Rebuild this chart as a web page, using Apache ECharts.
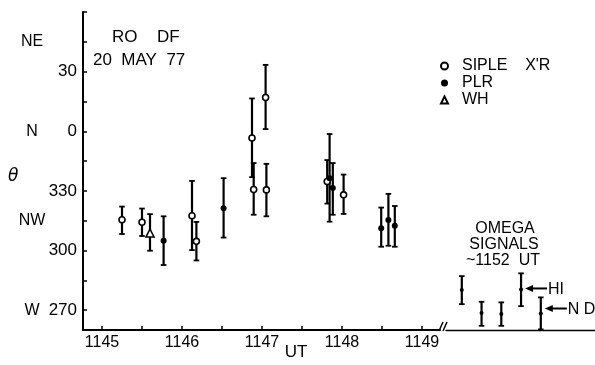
<!DOCTYPE html>
<html><head><meta charset="utf-8">
<script src="https://cdn.jsdelivr.net/npm/echarts@6/dist/echarts.min.js"></script>
<style>html,body{margin:0;padding:0;background:#fff}#c{width:595px;height:365px}</style>
</head><body><div id="c"></div>
<script>
// ---- data (UT minutes after 11:00 written as 1145.x, bearing theta in degrees; 360 = N = "0") ----
const sipleT  = [1145.25, 1145.50, 1146.125, 1146.18, 1146.875, 1146.896, 1147.045, 1147.055, 1147.815, 1148.02];
const sipleV  = [315.5, 314.2, 317.5, 304.6, 356.6, 330.7, 377.0, 330.5, 334.7, 328.0];
const sipleLo = [308.3, 307.3, 300.2, 295.0, 336.9, 318.0, 361.1, 317.2, 323.6, 318.4];
const sipleHi = [322.1, 321.1, 335.0, 314.4, 376.5, 344.0, 393.4, 343.6, 345.5, 338.2];

const plrT  = [1145.77, 1146.52, 1147.845, 1147.885, 1148.49, 1148.58, 1148.66];
const plrV  = [304.9, 321.3, 336.4, 331.4, 311.2, 315.4, 312.4];
const plrLo = [292.7, 306.5, 314.5, 318.0, 301.9, 302.4, 301.9];
const plrHi = [317.2, 336.4, 358.6, 344.0, 321.6, 328.5, 322.4];

const whT  = [1145.60];
const whV  = [308.8];
const whLo = [299.9];
const whHi = [318.3];

// Omega signals (~1152 UT), separate panel, station order
const omegaPos = [1, 2, 3, 4, 5];
const omegaV   = [280.1, 268.6, 268.0, 280.4, 268.3];
const omegaLo  = [273.0, 262.1, 262.1, 272.0, 260.3];
const omegaHi  = [287.1, 274.2, 273.9, 288.5, 276.4];
const omegaTag = ['', '', '', 'HI', 'ND'];

const thetaTicks  = [270, 300, 330, 360, 390];
const compassVals = [270, 315, 360, 405];
const compassText = ['W', 'NW', 'N', 'NE'];
const utTicks = [1145, 1146, 1147, 1148, 1149];
const utMinor = [1145, 1145.5, 1146, 1146.5, 1147, 1147.5, 1148, 1148.5, 1149];
const thetaMinor = [270, 285, 300, 315, 330, 345, 360, 375, 390, 405, 420];

// ---- chart ----
const FONT = 'Liberation Sans';
const chart = echarts.init(document.getElementById('c'));
const zip = (a, b, c) => a.map((v, i) => [v, b[i], c[i]]);
function renderBar(params, api) {
  const x = api.value(0), lo = api.value(1), hi = api.value(2);
  const p1 = api.coord([x, lo]), p2 = api.coord([x, hi]);
  const w = 2.8;
  const st = {stroke: '#000', lineWidth: 2.2};
  return {type: 'group', children: [
    {type: 'line', shape: {x1: p1[0], y1: p1[1], x2: p2[0], y2: p2[1]}, style: st},
    {type: 'line', shape: {x1: p1[0] - w, y1: p1[1], x2: p1[0] + w, y2: p1[1]}, style: {stroke: '#000', lineWidth: 1.8}},
    {type: 'line', shape: {x1: p2[0] - w, y1: p2[1], x2: p2[0] + w, y2: p2[1]}, style: {stroke: '#000', lineWidth: 1.8}}
  ]};
}
const sipleName = "SIPLE    X'R";
const txt = (t, x, y, extra) => Object.assign({type: 'text', x: x, y: y,
  style: Object.assign({text: t, font: '16px "' + FONT + '"', fill: '#000', textVerticalAlign: 'middle'}, extra || {})});

const option = {
  animation: false,
  backgroundColor: '#fff',
  textStyle: {fontFamily: FONT},
  grid: [
    {left: 83, top: 12, width: 357, height: 318},
    {left: 446, top: 12, width: 149, height: 318}
  ],
  xAxis: [
    {type: 'value', gridIndex: 0, min: 1144.7625, max: 1149.225,
     axisLine: {show: true, lineStyle: {color: '#000', width: 2}},
     axisTick: {show: true, inside: true, length: 4, lineStyle: {color: '#000', width: 1.5}, customValues: utMinor},
     axisLabel: {show: true, customValues: utTicks, formatter: v => String(Math.round(v)), color: '#000', fontSize: 16, margin: 5, fontFamily: FONT},
     splitLine: {show: false}},
    {type: 'value', gridIndex: 1, min: 0.2, max: 7.744,
     axisLine: {show: true, lineStyle: {color: '#000', width: 1.4}},
     axisTick: {show: false}, axisLabel: {show: false}, splitLine: {show: false}}
  ],
  yAxis: [
    {type: 'value', gridIndex: 0, min: 260, max: 420, position: 'left',
     axisLine: {show: true, lineStyle: {color: '#000', width: 2}},
     axisTick: {show: true, inside: true, length: 4, lineStyle: {color: '#000', width: 1.5}, customValues: thetaMinor},
     axisLabel: {show: true, customValues: thetaTicks, formatter: v => String(v >= 360 ? v - 360 : v), color: '#000', fontSize: 17, margin: 6, fontFamily: FONT},
     splitLine: {show: false}},
    {type: 'value', gridIndex: 1, min: 260, max: 420, show: false},
    {type: 'value', gridIndex: 0, min: 260, max: 420, position: 'left', offset: 51,
     axisLine: {show: false}, axisTick: {show: false}, splitLine: {show: false},
     axisLabel: {show: true, customValues: compassVals, margin: 0, align: 'center',
       formatter: v => compassText[compassVals.indexOf(v)], color: '#000', fontSize: 16, fontFamily: FONT}}
  ],
  legend: {
    orient: 'vertical', left: 435, top: 53, itemWidth: 7, itemHeight: 7, itemGap: 1,
    data: [sipleName, 'PLR', 'WH'],
    textStyle: {fontSize: 16, lineHeight: 16, color: '#000', fontFamily: FONT, padding: [0, 0, 0, 9]},
    selectedMode: false
  },
  series: [
    {type: 'custom', name: 'sipleBars', xAxisIndex: 0, yAxisIndex: 0, renderItem: renderBar, data: zip(sipleT, sipleLo, sipleHi), z: 2},
    {type: 'custom', name: 'plrBars', xAxisIndex: 0, yAxisIndex: 0, renderItem: renderBar, data: zip(plrT, plrLo, plrHi), z: 2},
    {type: 'custom', name: 'whBars', xAxisIndex: 0, yAxisIndex: 0, renderItem: renderBar, data: zip(whT, whLo, whHi), z: 2},
    {type: 'custom', name: 'omegaBars', xAxisIndex: 1, yAxisIndex: 1, renderItem: renderBar, data: zip(omegaPos, omegaLo, omegaHi), z: 2},
    {type: 'scatter', name: sipleName, xAxisIndex: 0, yAxisIndex: 0, symbol: 'circle', symbolSize: 6,
     itemStyle: {color: '#fff', borderColor: '#000', borderWidth: 1.6, opacity: 1}, data: sipleT.map((t, i) => [t, sipleV[i]]), z: 5},
    {type: 'scatter', name: 'PLR', xAxisIndex: 0, yAxisIndex: 0, symbol: 'circle', symbolSize: 6,
     itemStyle: {color: '#000', opacity: 1}, data: plrT.map((t, i) => [t, plrV[i]]), z: 5},
    {type: 'scatter', name: 'WH', xAxisIndex: 0, yAxisIndex: 0, symbol: 'triangle', symbolSize: 8,
     itemStyle: {color: '#fff', borderColor: '#000', borderWidth: 1.6, opacity: 1}, data: whT.map((t, i) => [t, whV[i]]), z: 5},
    {type: 'scatter', name: 'Omega', xAxisIndex: 1, yAxisIndex: 1, symbol: 'circle', symbolSize: 4,
     itemStyle: {color: '#000', opacity: 1}, data: omegaPos.map((p, i) => [p, omegaV[i]]), z: 5}
  ],
  graphic: [
    txt('RO', 112, 37, {font: '17px "' + FONT + '"'}), txt('DF', 157, 37, {font: '17px "' + FONT + '"'}),
    txt('20  MAY  77', 93, 60, {font: '17px "' + FONT + '"'}),
    txt('\u03B8', 8, 177, {font: 'italic 17px "DejaVu Sans"'}),
    txt('UT', 296, 352, {textAlign: 'center', font: '17px "' + FONT + '"'}),
    txt('OMEGA', 505, 229, {textAlign: 'center'}),
    txt('SIGNALS', 504, 245, {textAlign: 'center'}),
    txt('~1152  UT', 503, 261, {textAlign: 'center'}),
    {type: 'polyline', shape: {points: [[439, 331], [443, 322]]}, style: {stroke: '#000', lineWidth: 1.5}},
    {type: 'polyline', shape: {points: [[443, 331], [447, 322]]}, style: {stroke: '#000', lineWidth: 1.5}}
  ]
};
chart.setOption(option);

// arrows pointing to tagged Omega stations
const extra = [];
omegaTag.forEach((tag, i) => {
  if (!tag) return;
  const p = chart.convertToPixel({xAxisIndex: 1, yAxisIndex: 1}, [omegaPos[i], omegaV[i]]);
  const tipX = p[0] + 4, y = p[1] - 1 - (tag === 'ND' ? 4 : 0);
  extra.push({type: 'polygon', shape: {points: [[tipX, y], [tipX + 8, y - 3.5], [tipX + 8, y + 3.5]]}, style: {fill: '#000'}});
  extra.push({type: 'line', shape: {x1: tipX + 6, y1: y, x2: tipX + 22, y2: y}, style: {stroke: '#000', lineWidth: 2}});
  extra.push(txt(tag === 'ND' ? 'N D' : 'HI', tipX + 23, y + 1));
});
chart.setOption({graphic: option.graphic.concat(extra)});
</script></body></html>
